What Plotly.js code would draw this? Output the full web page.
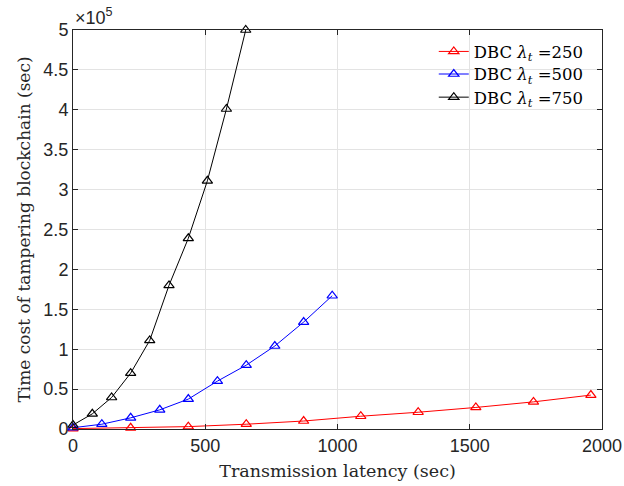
<!DOCTYPE html>
<html>
<head>
<meta charset="utf-8">
<script src="https://cdn.plot.ly/plotly-3.0.1.min.js"></script>
<style>html,body{margin:0;padding:0;background:#fff;}</style>
</head>
<body>
<div id="chart" style="width:624px;height:486px;"></div>
<script>
// Values in units of 10^5 sec (as shown on the axis)
const seriesNames = ["DBC <i>λ</i><sub><i>t</i></sub> =250", "DBC <i>λ</i><sub><i>t</i></sub> =500", "DBC <i>λ</i><sub><i>t</i></sub> =750"];
const redX = [0, 218, 436, 655, 872, 1088, 1305, 1523, 1741, 1958];
const redY = [0.005, 0.015, 0.03, 0.06, 0.10, 0.16, 0.21, 0.27, 0.34, 0.425];
const blueX = [0, 109, 218, 328, 436, 546, 655, 763, 872, 980];
const blueY = [0.016, 0.06, 0.14, 0.24, 0.375, 0.60, 0.80, 1.04, 1.34, 1.67];
const blackX = [0, 73, 146, 218, 290, 363, 436, 508, 580, 653];
const blackY = [0.05, 0.19, 0.395, 0.70, 1.11, 1.80, 2.39, 3.11, 4.01, 5.0];
const yTickVals = [0, 0.5, 1, 1.5, 2, 2.5, 3, 3.5, 4, 4.5, 5];
const yTickText = ["0", "0.5", "1", "1.5", "2", "2.5", "3", "3.5", "4", "4.5", "5"];
const xTickVals = [0, 500, 1000, 1500, 2000];
const colors = ["#ff0000", "#0000ff", "#000000"];

const serif = "DejaVu Serif, Liberation Serif, serif";
const sans = "Liberation Sans, Arial, sans-serif";
const legendIds = ["legend", "legend2", "legend3"];
const legendY = [0.9456, 0.889, 0.831];

const xs = [redX, blueX, blackX];
const ys = [redY, blueY, blackY];
const traces = xs.map((x, i) => ({
  x: x, y: ys[i], name: seriesNames[i], type: "scatter", mode: "lines+markers",
  legend: legendIds[i],
  line: {color: colors[i], width: 1},
  marker: {symbol: "triangle-up-open", size: 9, color: colors[i], line: {width: 1.2, color: colors[i]}},
  cliponaxis: false
}));

const axisCommon = {
  showline: true, linecolor: "#262626", linewidth: 1, mirror: "ticks",
  ticks: "inside", ticklen: 5, tickcolor: "#262626",
  showgrid: true, gridcolor: "#e3e3e3", gridwidth: 1, zeroline: false,
  tickfont: {family: sans, size: 18, color: "#262626"}
};

const layout = {
  width: 624, height: 486,
  margin: {l: 73, r: 22, t: 30, b: 57},
  paper_bgcolor: "#ffffff", plot_bgcolor: "#ffffff",
  showlegend: true,
  xaxis: Object.assign({}, axisCommon, {range: [0, 2000], tickvals: xTickVals, ticktext: xTickVals.map(String),
    title: {text: "Transmission latency (sec)", standoff: 10, font: {family: serif, size: 17.5, color: "#262626"}}}),
  yaxis: Object.assign({}, axisCommon, {range: [0, 5], tickvals: yTickVals, ticktext: yTickText,
    title: {text: "Time cost of tampering blockchain (sec)", standoff: 8, font: {family: serif, size: 17, color: "#262626"}}}),
  annotations: [{
    text: "×10<sup>5</sup>", xref: "paper", yref: "paper", x: 0, y: 1, xanchor: "left", yanchor: "bottom",
    showarrow: false,
    font: {family: sans, size: 18, color: "#262626"}
  }]
};
legendIds.forEach((id, i) => {
  layout[id] = {x: 0.682, xanchor: "left", y: legendY[i], yanchor: "middle", bgcolor: "rgba(0,0,0,0)", borderwidth: 0,
    font: {family: serif, size: 16.5, color: "#000"}};
});

Plotly.newPlot("chart", traces, layout, {displayModeBar: false, staticPlot: true});
</script>
</body>
</html>
